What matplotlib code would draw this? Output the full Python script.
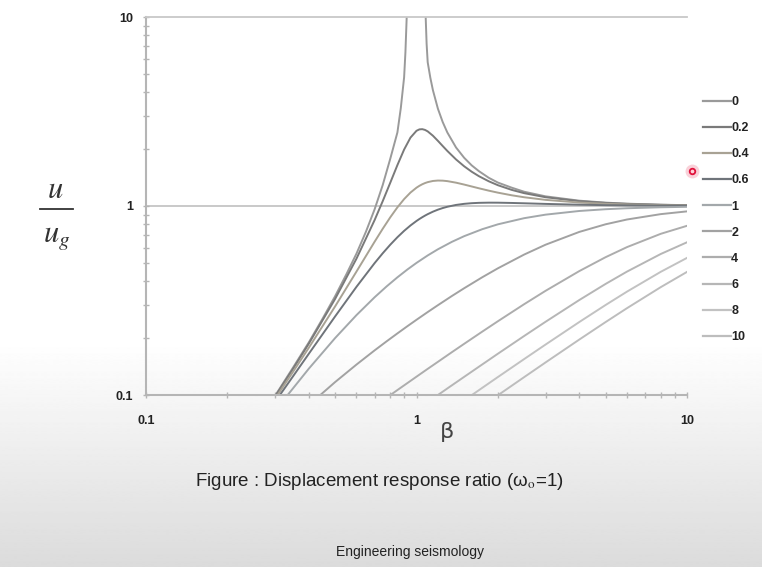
import numpy as np
import matplotlib
matplotlib.use('Agg')
import matplotlib.pyplot as plt
from matplotlib.lines import Line2D
from matplotlib.ticker import LogLocator, NullFormatter

# damping values shown in the legend
damping_labels = ['0', '0.2', '0.4', '0.6', '1', '2', '4', '6', '8', '10']

# undamped curve (both branches leave the top near beta=1)
beta_free = [0.3, 0.35, 0.4, 0.45, 0.5, 0.55, 0.6, 0.65, 0.7, 0.75, 0.8, 0.85, 0.875, 0.9,
             0.91, 0.92, 0.93, 1.07, 1.08, 1.09, 1.1, 1.125, 1.15, 1.2, 1.25, 1.3, 1.4, 1.5,
             1.6, 1.7, 1.85, 2.0, 2.25, 2.5, 3.0, 4.0, 5.0, 6.0, 8.0, 10.0]
ratio_0 = [0.099, 0.14, 0.19, 0.254, 0.333, 0.434, 0.56, 0.73, 0.96, 1.29, 1.78, 2.45, 3.3, 4.8,
           6.5, 10.0, 20.0, 20.0, 10.5, 7.2, 5.76, 4.77, 4.10, 3.27, 2.78, 2.45, 2.04, 1.8,
           1.64, 1.53, 1.41, 1.33, 1.25, 1.19, 1.125, 1.067, 1.042, 1.029, 1.016, 1.01]

# lightly damped curves
beta_low = [0.3, 0.35, 0.4, 0.5, 0.6, 0.7, 0.75, 0.8, 0.85, 0.9, 0.95, 1.0, 1.025, 1.05,
            1.075, 1.1, 1.15, 1.2, 1.25, 1.3, 1.4, 1.5, 1.6, 1.7, 1.85, 2.0, 2.25, 2.5,
            3.0, 4.0, 5.0, 6.0, 8.0, 10.0]
ratio_02 = [0.0981, 0.1379, 0.1871, 0.3221, 0.5267, 0.8422, 1.0604, 1.3287, 1.6462, 1.9897,
            2.3005, 2.5, 2.5432, 2.5503, 2.5271, 2.4820, 2.3541, 2.2113, 2.0761, 1.9560,
            1.7636, 1.6228, 1.5182, 1.4388, 1.3512, 1.2883, 1.2167, 1.1694, 1.1126, 1.0607,
            1.0381, 1.0262, 1.0146, 1.0093]
ratio_04 = [0.0956, 0.1330, 0.1780, 0.2941, 0.45, 0.6469, 0.7575, 0.8716, 0.9838, 1.0877,
            1.1779, 1.25, 1.2788, 1.3029, 1.3223, 1.3374, 1.3566, 1.3636, 1.3618, 1.3541,
            1.3287, 1.2985, 1.2686, 1.2412, 1.2056, 1.1765, 1.1393, 1.1125, 1.0776, 1.0432,
            1.0275, 1.0190, 1.0107, 1.0068]
ratio_06 = [0.0920, 0.1259, 0.1654, 0.2603, 0.3737, 0.4986, 0.5621, 0.6242, 0.6835, 0.7387,
            0.7888, 0.8333, 0.8535, 0.8721, 0.8894, 0.9053, 0.9332, 0.9564, 0.9753, 0.9907,
            1.0130, 1.0267, 1.0348, 1.0392, 1.0416, 1.0412, 1.0378, 1.0336, 1.0259, 1.0159,
            1.0106, 1.0075, 1.0043, 1.0028]

# heavily damped curves
beta_high = [0.3, 0.4, 0.5, 0.6, 0.7, 0.775, 0.85, 0.925, 1.0, 1.1, 1.2, 1.35, 1.5, 1.75,
             2.0, 2.5, 3.0, 4.0, 5.0, 6.0, 8.0, 10.0]
ratio_1 = [0.0826, 0.1379, 0.2, 0.2647, 0.3289, 0.3752, 0.4194, 0.4611, 0.5, 0.5475, 0.5902,
           0.6457, 0.6923, 0.7538, 0.8, 0.8621, 0.9, 0.9412, 0.9615, 0.973, 0.9846, 0.9901]
ratio_2 = [0.0598, 0.0885, 0.1170, 0.1449, 0.1722, 0.1922, 0.2118, 0.2311, 0.25, 0.2747, 0.2987,
           0.3337, 0.3671, 0.4197, 0.4682, 0.5534, 0.6240, 0.7295, 0.8002, 0.8483, 0.9057, 0.9366]
ratio_4 = [0.0351, 0.0484, 0.0614, 0.0743, 0.0871, 0.0967, 0.1062, 0.1156, 0.125, 0.1375, 0.1498,
           0.1683, 0.1865, 0.2164, 0.2457, 0.3023, 0.3558, 0.4527, 0.5359, 0.6060, 0.7127, 0.7856]
ratio_6 = [0.0242, 0.0328, 0.0413, 0.0498, 0.0582, 0.0645, 0.0708, 0.0771, 0.0833, 0.0917, 0.1000,
           0.1124, 0.1247, 0.1451, 0.1654, 0.2052, 0.2440, 0.3182, 0.3869, 0.4497, 0.5574, 0.6428]
ratio_8 = [0.0184, 0.0248, 0.0311, 0.0374, 0.0437, 0.0484, 0.0531, 0.0578, 0.0625, 0.0687, 0.0750,
           0.0843, 0.0936, 0.1091, 0.1245, 0.1549, 0.1849, 0.2434, 0.2993, 0.3523, 0.4486, 0.5315]
ratio_10 = [0.0148, 0.0199, 0.0249, 0.0300, 0.0350, 0.0387, 0.0425, 0.0462, 0.05, 0.0550, 0.06,
            0.0675, 0.0749, 0.0873, 0.0997, 0.1243, 0.1487, 0.1966, 0.2431, 0.2880, 0.3722, 0.4481]

curves = [(beta_free, ratio_0), (beta_low, ratio_02), (beta_low, ratio_04), (beta_low, ratio_06),
          (beta_high, ratio_1), (beta_high, ratio_2), (beta_high, ratio_4), (beta_high, ratio_6),
          (beta_high, ratio_8), (beta_high, ratio_10)]
colors = ['#9a9a9a', '#7a7a7a', '#a8a294', '#6f747a', '#a3a8ab',
          '#a2a2a2', '#adadad', '#b6b6b6', '#c2c2c2', '#bdbdbd']

W, H = 762, 567
fig = plt.figure(figsize=(W / 100, H / 100), dpi=100)

# slide background: white fading to grey towards the bottom
bg = fig.add_axes([0, 0, 1, 1], zorder=0)
ramp = np.linspace(0.86, 1.0, 256)[:, None]
bg.imshow(ramp, cmap='gray', vmin=0, vmax=1, aspect='auto', origin='lower',
          extent=[0, 1, 0, (H - 340) / H], interpolation='bilinear')
bg.set_xlim(0, 1)
bg.set_ylim(0, 1)
bg.axis('off')

ax = fig.add_axes([146 / W, 1 - 395 / H, (687 - 146) / W, (395 - 17) / H], zorder=1)
ax.set_facecolor('none')

for (b, r), c, lab in zip(curves, colors, damping_labels):
    ax.plot(b, r, color=c, lw=1.4, label=lab)

ax.set_xscale('log')
ax.set_yscale('log')
ax.set_xlim(0.1, 10)
ax.set_ylim(0.1, 10)

ax.set_xticks([0.1, 1, 10])
ax.set_xticklabels(['0.1', '1', '10'])
ax.set_yticks([0.1, 1, 10])
ax.set_yticklabels(['0.1', '1', '10'])
ax.xaxis.set_minor_locator(LogLocator(base=10, subs=np.arange(2, 10)))
ax.yaxis.set_minor_locator(LogLocator(base=10, subs=np.arange(2, 10)))
ax.xaxis.set_minor_formatter(NullFormatter())
ax.yaxis.set_minor_formatter(NullFormatter())

for t in ax.get_xticklabels() + ax.get_yticklabels():
    t.set_fontweight('bold')
    t.set_fontfamily('Liberation Sans')
ax.tick_params(axis='both', which='both', direction='inout', color='#b5b5b5',
               width=1, labelsize=9, labelcolor='#222222')
ax.tick_params(axis='both', which='major', length=5)
ax.tick_params(axis='both', which='minor', length=4)
ax.tick_params(axis='x', pad=12)
ax.tick_params(axis='y', pad=7)

for s in ['left', 'bottom']:
    ax.spines[s].set_color('#b5b5b5')
    ax.spines[s].set_linewidth(1.5)
ax.spines['right'].set_visible(False)
ax.spines['top'].set_color('#c8c8c8')
ax.spines['top'].set_linewidth(1.3)
ax.axhline(1, color='#c0c0c0', lw=1.2, zorder=0)

leg = ax.legend(loc='upper left', bbox_to_anchor=(703 / W, 1 - 96 / H),
                bbox_transform=fig.transFigure, frameon=False, borderpad=0,
                borderaxespad=0, handlelength=2.2, handletextpad=0.05,
                labelspacing=1.13, prop={'family': 'Liberation Sans', 'weight': 'bold', 'size': 9})
for t in leg.get_texts():
    t.set_color('#222222')
for h in leg.get_lines():
    h.set_linewidth(1.6)

# axis labels drawn as on the slide
plt.rcParams['mathtext.fontset'] = 'stix'
fig.text(55 / W, 1 - 190 / H, r'$u$', fontsize=22, ha='center', va='center', color='#333333')
fig.add_artist(Line2D([40 / W, 73 / W], [1 - 209 / H, 1 - 209 / H], color='#333333', lw=1.3))
fig.text(57 / W, 1 - 238 / H, r'$u_g$', fontsize=22, ha='center', va='center', color='#333333')
fig.text(447 / W, 1 - 432 / H, 'β', fontsize=16, ha='center', va='center', color='#444444',
         family='DejaVu Sans')

fig.text(379 / W, 1 - 482 / H, 'Figure : Displacement response ratio (ω$_{\\mathrm{o}}$=1)',
         fontsize=13.5, ha='center', va='center', color='#222222', family='Liberation Sans')
fig.text(410 / W, 1 - 552 / H, 'Engineering seismology', fontsize=10, ha='center',
         va='center', color='#222222', family='Liberation Sans')

# pointer dot on the slide
fig.add_artist(Line2D([692 / W], [1 - 171 / H], marker='o', markersize=10,
                      markerfacecolor='#f6b3c0', markeredgecolor='none', alpha=0.6))
fig.add_artist(Line2D([692 / W], [1 - 171 / H], marker='o', markersize=4,
                      markerfacecolor='#ffd0d8', markeredgecolor='#e0103a', markeredgewidth=1.3))

fig.savefig('out.png', dpi=100)
